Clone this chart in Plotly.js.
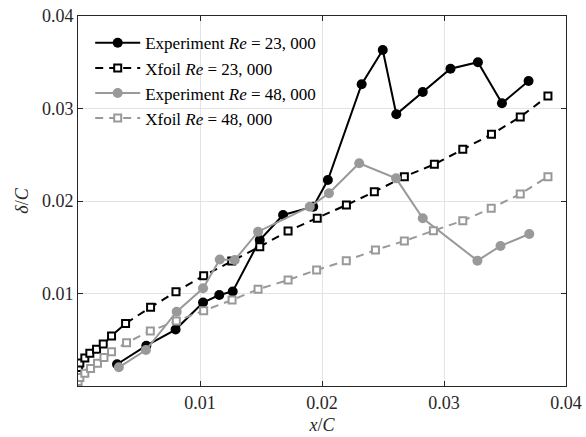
<!DOCTYPE html>
<html>
<head>
<meta charset="utf-8">
<script src="https://cdn.plot.ly/plotly-3.0.1.min.js"></script>
<style>html,body{margin:0;padding:0;background:#fff;}#chart{width:586px;height:437px;}</style>
</head>
<body>
<div id="chart"></div>
<script>
// Experiment Re = 23,000
const exp23X = [0.0032, 0.0056, 0.0080, 0.01025, 0.01158, 0.01268, 0.0149, 0.01681, 0.01928, 0.02048, 0.02325, 0.02498, 0.02609, 0.02826, 0.03053, 0.03278, 0.03475, 0.03693];
const exp23Y = [0.00235, 0.00436, 0.0061, 0.00902, 0.00984, 0.01022, 0.01578, 0.01849, 0.01938, 0.02227, 0.03262, 0.03632, 0.02937, 0.03178, 0.0343, 0.035, 0.03056, 0.03297];
// Xfoil Re = 23,000
const xf23X = [0.00001, 0.00004, 0.00015, 0.00056, 0.00097, 0.00152, 0.00207, 0.00275, 0.0039, 0.00595, 0.00803, 0.0103, 0.0126, 0.0149, 0.01722, 0.01961, 0.0220, 0.02429, 0.02675, 0.02921, 0.03154, 0.03389, 0.03625, 0.03852];
const xf23Y = [0.00157, 0.0020, 0.00249, 0.00303, 0.00354, 0.00397, 0.00454, 0.00541, 0.00676, 0.00851, 0.01019, 0.01192, 0.01351, 0.01506, 0.01676, 0.01813, 0.01957, 0.0210, 0.02263, 0.02397, 0.02559, 0.02721, 0.02908, 0.03135];
// Experiment Re = 48,000
const exp48X = [0.00335, 0.00557, 0.00809, 0.01025, 0.01162, 0.01285, 0.01476, 0.0190, 0.02057, 0.02305, 0.02607, 0.02826, 0.03274, 0.03463, 0.03699];
const exp48Y = [0.00202, 0.00389, 0.00803, 0.01056, 0.01368, 0.01362, 0.01668, 0.01938, 0.02083, 0.02408, 0.02245, 0.01813, 0.01355, 0.01514, 0.01643];
// Xfoil Re = 48,000
const xf48X = [0.00001, 0.00015, 0.00056, 0.00103, 0.0016, 0.00213, 0.00275, 0.00398, 0.00593, 0.00806, 0.0103, 0.01263, 0.01476, 0.01722, 0.01956, 0.02199, 0.02438, 0.02675, 0.02913, 0.03154, 0.03387, 0.03625, 0.03852];
const xf48Y = [0.00049, 0.00092, 0.00137, 0.00189, 0.00245, 0.00308, 0.00371, 0.00468, 0.00595, 0.00703, 0.00814, 0.0093, 0.01045, 0.01146, 0.01254, 0.01355, 0.0147, 0.01568, 0.01679, 0.01787, 0.01921, 0.02076, 0.02263];

const tickVals = [0.01, 0.02, 0.03, 0.04];
const tickText = ['0.01', '0.02', '0.03', '0.04'];
const names = ['Experiment <i>Re</i> = 23, 000', 'Xfoil <i>Re</i> = 23, 000', 'Experiment <i>Re</i> = 48, 000', 'Xfoil <i>Re</i> = 48, 000'];

const black = '#000000', grey = '#999999';
const FONT = "'Liberation Serif', 'DejaVu Serif', serif";

const traces = [
  {x: exp23X, y: exp23Y, name: names[0], mode: 'lines+markers', type: 'scatter',
   line: {color: black, width: 2}, marker: {symbol: 'circle', size: 10, color: black}},
  {x: xf23X, y: xf23Y, name: names[1], mode: 'lines+markers', type: 'scatter',
   line: {color: black, width: 2, dash: '8px,6px'}, marker: {symbol: 'square', size: 7, color: '#fff', line: {color: black, width: 2}}},
  {x: exp48X, y: exp48Y, name: names[2], mode: 'lines+markers', type: 'scatter',
   line: {color: grey, width: 2}, marker: {symbol: 'circle', size: 10, color: grey}},
  {x: xf48X, y: xf48Y, name: names[3], mode: 'lines+markers', type: 'scatter',
   line: {color: grey, width: 2, dash: '8px,6px'}, marker: {symbol: 'square', size: 7, color: '#fff', line: {color: grey, width: 2}}}
];

const axisCommon = {
  showline: true, linecolor: '#262626', linewidth: 1, mirror: 'ticks',
  ticks: 'inside', ticklen: 5, tickcolor: '#262626',
  showgrid: true, gridcolor: '#e3e3e3', gridwidth: 1, zeroline: false,
  tickvals: tickVals, ticktext: tickText,
  tickfont: {family: FONT, size: 18, color: '#262626'}
};

const layout = {
  width: 586, height: 437,
  margin: {l: 78, r: 20, t: 16, b: 51},
  paper_bgcolor: '#fff', plot_bgcolor: '#fff',
  showlegend: true,
  legend: {x: 0.025, y: 0.975, xanchor: 'left', yanchor: 'top', bgcolor: 'rgba(0,0,0,0)',
           font: {family: FONT, size: 17, color: '#000'}, itemwidth: 45, tracegroupgap: 0},
  xaxis: Object.assign({}, axisCommon, {range: [0, 0.04],
    title: {text: '<i>x</i>/<i>C</i>', font: {family: FONT, size: 18, color: '#262626'}, standoff: 6}}),
  yaxis: Object.assign({}, axisCommon, {range: [0, 0.04],
    title: {text: '<i>δ</i>/<i>C</i>', font: {family: FONT, size: 18, color: '#262626'}, standoff: 8}})
};

Plotly.newPlot('chart', traces, layout, {displayModeBar: false, staticPlot: true});
</script>
</body>
</html>
